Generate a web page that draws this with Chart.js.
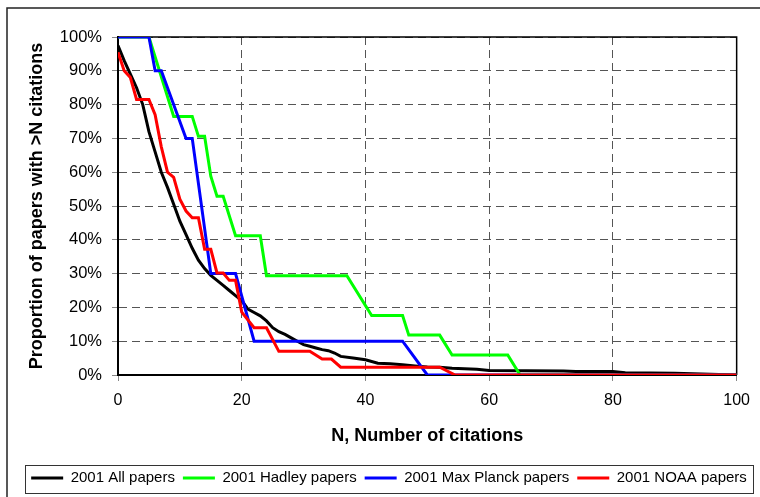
<!DOCTYPE html>
<html>
<head>
<meta charset="utf-8">
<script src="https://cdn.jsdelivr.net/npm/chart.js@4"></script>
<style>
  html, body { margin: 0; padding: 0; background: #fff; }
  #wrap { width: 760px; height: 497px; }
</style>
</head>
<body>
<div id="wrap"><canvas id="chart" width="760" height="497"></canvas></div>
<script>
// Citation counts (x) and % of papers with more than N citations (y)
const allN   = [0, 1, 2, 3, 4, 5, 6, 7, 8, 9, 10, 11, 12, 13, 14, 15, 16, 17, 18, 19, 20, 21, 22, 23, 24, 25, 26, 27, 28, 29, 30, 31, 32, 33, 34, 35, 36, 38, 40, 42, 44, 46, 48, 50, 52, 54, 58, 60, 72, 74, 80, 82, 90, 100];
const allPct = [97.5, 93, 89, 85, 80, 72, 66, 60, 55.5, 50.5, 45.5, 41.5, 37.5, 34, 31.5, 29.5, 28, 26.5, 25, 23.5, 22, 19.5, 18.5, 17.5, 16, 14, 12.8, 12, 11, 10, 9, 8.5, 8, 7.5, 7.2, 6.5, 5.5, 5, 4.5, 3.5, 3.3, 3, 2.7, 2.4, 2.3, 2, 1.7, 1.3, 1.2, 1, 1, 0.7, 0.5, 0];

const hadleyN   = [0, 5, 9, 12, 13, 14, 15, 16, 17, 19, 23, 24, 37, 41, 46, 47, 52, 54, 63, 65, 100];
const hadleyPct = [100, 100, 76.5, 76.5, 70.6, 70.6, 58.8, 52.9, 52.9, 41.2, 41.2, 29.4, 29.4, 17.6, 17.6, 11.8, 11.8, 5.9, 5.9, 0, 0];

const planckN   = [0, 5, 6, 7, 11, 12, 15, 19, 22, 46, 50, 100];
const planckPct = [100, 100, 90, 90, 70, 70, 30, 30, 10, 10, 0, 0];

const noaaN   = [0, 1, 2, 3, 5, 6, 7, 8, 9, 10, 11, 12, 13, 14, 15, 16, 17, 18, 19, 20, 22, 24, 26, 31, 33, 34.5, 36, 52, 54.5, 100];
const noaaPct = [95.5, 90, 88, 81.5, 81.5, 77, 67.5, 60, 58.5, 52, 48.5, 46.5, 46.5, 37.2, 37.2, 30.2, 30.2, 28, 28, 18.6, 14, 14, 7, 7, 4.7, 4.7, 2.3, 2.3, 0, 0];

const seriesNames  = ['2001 All papers', '2001 Hadley papers', '2001 Max Planck papers', '2001 NOAA papers'];
const seriesColors = ['#000000', '#00ff00', '#0000ff', '#ff0000'];

const xTitle = 'N, Number of citations';
const yTitle = 'Proportion of papers with >N citations';

function toPoints(xs, ys) {
  return xs.map((x, i) => ({ x: x, y: ys[i] }));
}

const seriesData = [
  toPoints(allN, allPct),
  toPoints(hadleyN, hadleyPct),
  toPoints(planckN, planckPct),
  toPoints(noaaN, noaaPct)
];

const FONT = '"Liberation Sans", Arial, sans-serif';

// Solid frame round the plot area, plus the outer chart border
const framePlugin = {
  id: 'frames',
  beforeDatasetsDraw(chart) {
    const { ctx, chartArea: a } = chart;
    ctx.save();
    ctx.strokeStyle = '#000';
    ctx.lineWidth = 1.5;
    ctx.beginPath();
    ctx.moveTo(a.left, a.top);
    ctx.lineTo(a.right, a.top);
    ctx.lineTo(a.right, a.bottom);
    ctx.stroke();
    ctx.restore();
  },
  afterDraw(chart) {
    const { ctx } = chart;
    ctx.save();
    // outer border (cropped at right and bottom in the original)
    ctx.strokeStyle = '#222';
    ctx.lineWidth = 1.5;
    ctx.beginPath();
    ctx.moveTo(7, chart.height);
    ctx.lineTo(7, 8);
    ctx.lineTo(chart.width, 8);
    ctx.stroke();
    // box round the legend
    const boxes = chart.legend.legendHitBoxes;
    if (boxes && boxes.length) {
      const first = boxes[0];
      const last = boxes[boxes.length - 1];
      const left = first.left - 6;
      const right = last.left + last.width + 6;
      const top = first.top - 6;
      const bottom = first.top + first.height + 7;
      ctx.strokeStyle = '#333';
      ctx.lineWidth = 1;
      ctx.strokeRect(Math.round(left) + 0.5, Math.round(top) + 0.5, Math.round(right - left), Math.round(bottom - top));
    }
    ctx.restore();
  }
};

new Chart(document.getElementById('chart').getContext('2d'), {
  type: 'line',
  data: {
    datasets: seriesData.map((pts, i) => ({
      label: seriesNames[i],
      data: pts,
      borderColor: seriesColors[i],
      backgroundColor: seriesColors[i],
      borderWidth: 3,
      pointRadius: 0,
      tension: 0,
      fill: false,
      order: seriesData.length - i
    }))
  },
  options: {
    responsive: false,
    animation: false,
    layout: {
      padding: { left: 18, top: 37, right: 0, bottom: 1.5 }
    },
    plugins: {
      tooltip: { enabled: false },
      legend: {
        position: 'bottom',
        labels: {
          color: '#000',
          font: { family: FONT, size: 15 },
          usePointStyle: true,
          pointStyle: 'line',
          pointStyleWidth: 32,
          boxHeight: 3,
          padding: 8,
          sort: (a, b) => a.datasetIndex - b.datasetIndex
        }
      }
    },
    scales: {
      x: {
        type: 'linear',
        min: 0,
        max: 100,
        afterFit: (s) => { s.height = 87.5; },
        ticks: {
          stepSize: 20,
          color: '#000',
          padding: 10,
          maxRotation: 0,
          font: { family: FONT, size: 16 }
        },
        grid: {
          color: '#555',
          lineWidth: 1,
          tickLength: 6,
          tickColor: '#888',
          tickBorderDash: []
        },
        border: { display: true, color: '#000', width: 2, dash: [8, 5] },
        title: {
          display: true,
          text: xTitle,
          color: '#000',
          font: { family: FONT, size: 18, weight: 'bold' },
          padding: { top: 4, bottom: 16 }
        }
      },
      y: {
        type: 'linear',
        min: 0,
        max: 100,
        afterFit: (s) => { s.width = 100; },
        ticks: {
          stepSize: 10,
          color: '#000',
          padding: 10,
          font: { family: FONT, size: 16.5 },
          callback: (v) => v + '%'
        },
        grid: {
          color: '#555',
          lineWidth: 1,
          tickLength: 6,
          tickColor: '#888',
          tickBorderDash: []
        },
        border: { display: true, color: '#000', width: 2, dash: [8, 5] },
        title: {
          display: true,
          text: yTitle,
          color: '#000',
          font: { family: FONT, size: 18, weight: 'bold' },
          padding: { top: 8, bottom: 4 }
        }
      },
      // empty right-hand axis: keeps the plot clear of the right edge
      // while the legend still gets the full width
      yRight: {
        type: 'linear',
        position: 'right',
        min: 0,
        max: 100,
        afterFit: (s) => { s.width = 22; },
        ticks: { display: false },
        grid: { display: false, drawTicks: false },
        border: { display: false }
      }
    }
  },
  plugins: [framePlugin]
});
</script>
</body>
</html>
